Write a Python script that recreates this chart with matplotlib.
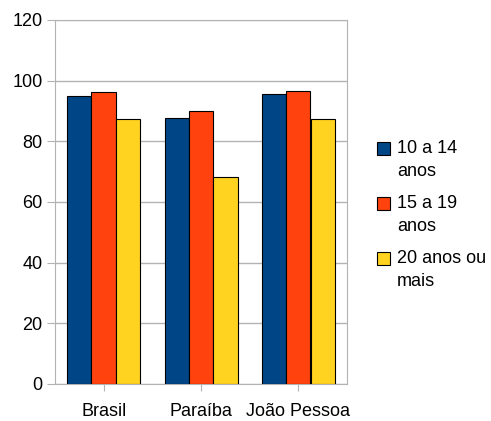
import numpy as np
import matplotlib.pyplot as plt
from matplotlib.patches import Rectangle

plt.rcParams['font.family'] = ['Liberation Sans', 'DejaVu Sans']

categories = ['Brasil', 'Paraíba', 'João Pessoa']
series_names = ['10 a 14\nanos', '15 a 19\nanos', '20 anos ou\nmais']
values_10_14 = [95.0, 87.8, 95.6]
values_15_19 = [96.2, 89.9, 96.6]
values_20_mais = [87.2, 68.2, 87.2]
colors = ['#004586', '#ff420e', '#ffd320']

W, H = 491, 421
fig = plt.figure(figsize=(W / 100, H / 100), dpi=100)
ax = fig.add_axes([55 / W, 1 - 384 / H, 292 / W, 364 / H])

x = np.arange(len(categories))
w = 0.25
for i, vals in enumerate([values_10_14, values_15_19, values_20_mais]):
    ax.bar(x + (i - 1) * w, vals, w, color=colors[i], edgecolor='black',
           linewidth=0.8, zorder=3)

ax.set_xlim(-0.5, 2.5)
ax.set_ylim(0, 120)
ax.set_yticks(range(0, 121, 20))
ax.set_xticks(x)
ax.set_xticklabels(categories)
ax.yaxis.grid(True, color='#b3b3b3', linewidth=1, zorder=0)
for s in ax.spines.values():
    s.set_color('#b3b3b3')
ax.tick_params(axis='y', colors='#b3b3b3', labelcolor='black', labelsize=13,
               length=6, direction='out', pad=3)
ax.tick_params(axis='x', colors='#b3b3b3', labelcolor='black', labelsize=13,
               length=5, direction='out', pad=9)

# legend drawn by hand so the square sits on the first text line
item_tops = [142, 197, 252]
for top, c, name in zip(item_tops, colors, series_names):
    fig.patches.append(Rectangle((377 / W, 1 - (top + 13) / H), 13 / W, 13 / H,
                                 transform=fig.transFigure, facecolor=c,
                                 edgecolor='black', linewidth=0.8))
    fig.text(397 / W, 1 - (top - 2) / H, name, fontsize=13, va='top',
             ha='left', linespacing=1.45)

fig.savefig('out.png', dpi=100)
